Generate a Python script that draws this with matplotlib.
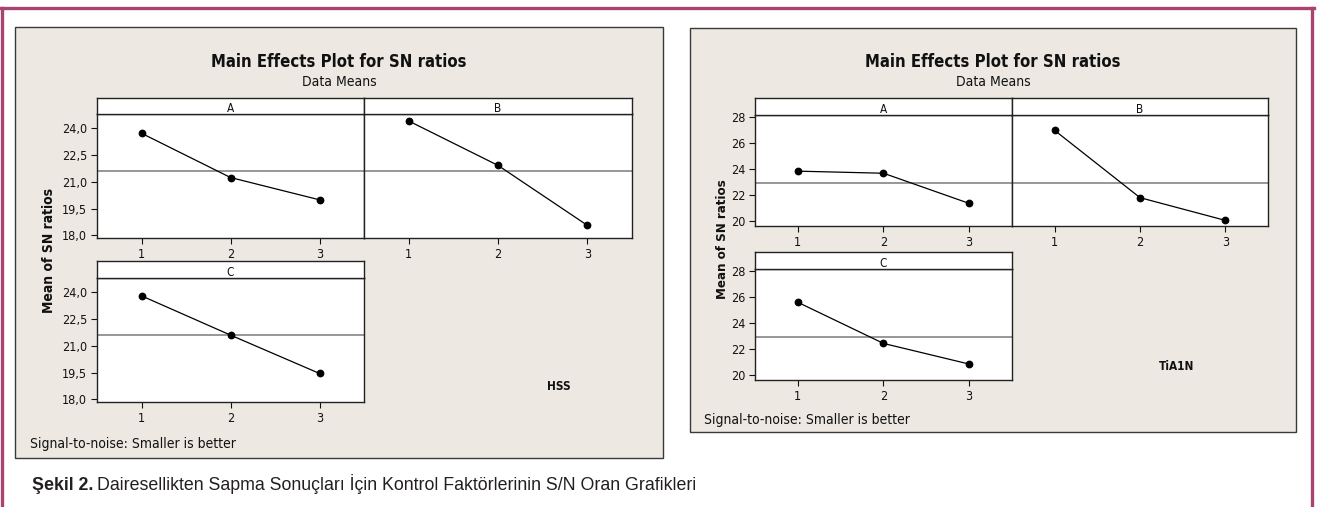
import numpy as np
import matplotlib
matplotlib.use("Agg")
import matplotlib.pyplot as plt
from matplotlib.patches import Rectangle
from matplotlib.lines import Line2D
from matplotlib.ticker import FuncFormatter

# ---- data: mean SN ratio at each factor level ----
levels = [1, 2, 3]
hss_A = [23.72, 21.24, 19.99]
hss_B = [24.41, 21.92, 18.56]
hss_C = [23.80, 21.60, 19.45]
hss_yticks = [18.0, 19.5, 21.0, 22.5, 24.0]

tialn_A = [23.85, 23.69, 21.38]
tialn_B = [26.97, 21.82, 20.08]
tialn_C = [25.60, 22.45, 20.87]
tialn_yticks = [20, 22, 24, 26, 28]

title = "Main Effects Plot for SN ratios"
subtitle = "Data Means"
ylabel = "Mean of SN ratios"
note = "Signal-to-noise: Smaller is better"
caption_bold = "Şekil 2."
caption_rest = "Dairesellikten Sapma Sonuçları İçin Kontrol Faktörlerinin S/N Oran Grafikleri"

W, H = 1317, 507
BEIGE = "#EDE9E2"
MAGENTA = "#A8446F"
INK = "#111111"

plt.rcParams["font.family"] = ["DejaVu Sans"]
plt.rcParams["font.stretch"] = "condensed"

fig = plt.figure(figsize=(W / 100, H / 100), dpi=100)
fig.patch.set_facecolor("white")


def fx(x):
    return x / W


def fy(y):
    return 1 - y / H


def box(x0, y0, x1, y1):
    # pixel box (top-left origin) -> figure fraction rect
    return [x0 / W, 1 - y1 / H, (x1 - x0) / W, (y1 - y0) / H]


# ---- page frame ----
fig.add_artist(Line2D([0, fx(1314)], [fy(8), fy(8)], color=MAGENTA, lw=2.4, zorder=-2))
fig.add_artist(Line2D([fx(1.5), fx(1.5)], [fy(8), 0], color=MAGENTA, lw=2.4, zorder=-2))
fig.add_artist(Line2D([fx(1312), fx(1312)], [fy(8), 0], color=MAGENTA, lw=2.4, zorder=-2))


def facet(x0, y0, x1, y1, strip_h, name, vals, ylim, yticks, fmt, grand, show_y=True):
    ax = fig.add_axes(box(x0, y0, x1, y1))
    ax.set_facecolor("white")
    ax.axhline(grand, color="#8f8f8f", lw=1.3, zorder=2)
    ax.plot(levels, vals, color="black", lw=0.9, marker="o", ms=4.6, zorder=3)
    ax.set_xlim(0.5, 3.5)
    ax.set_ylim(*ylim)
    ax.set_xticks(levels)
    ax.set_yticks(yticks)
    ax.yaxis.set_major_formatter(FuncFormatter(fmt))
    ax.tick_params(direction="out", length=4, width=0.8, labelsize=9, pad=3, colors=INK)
    if not show_y:
        ax.tick_params(axis="y", left=False, labelleft=False)
    for s in ax.spines.values():
        s.set_linewidth(1.0)
        s.set_color("#222222")
    sax = fig.add_axes(box(x0, y0 - strip_h, x1, y0))
    sax.set_facecolor("white")
    sax.set_xticks([])
    sax.set_yticks([])
    for s in sax.spines.values():
        s.set_linewidth(1.0)
        s.set_color("#222222")
    sax.text(0.5, 0.12, name, ha="center", va="baseline", fontsize=8.5, color=INK,
             transform=sax.transAxes)
    return ax


def panel(px0, py0, px1, py1):
    fig.add_artist(Rectangle((fx(px0), fy(py1)), (px1 - px0) / W, (py1 - py0) / H,
                             transform=fig.transFigure, fc=BEIGE, ec="#3a3a3a",
                             lw=1.0, zorder=-1))
    cx = (px0 + px1) / 2
    fig.text(fx(cx), fy(62), title, ha="center", va="center", fontsize=12,
             fontweight="bold", color=INK)
    fig.text(fx(cx), fy(82), subtitle, ha="center", va="center", fontsize=10, color=INK)


comma1 = lambda v, p: f"{v:.1f}".replace(".", ",")
whole = lambda v, p: f"{v:.0f}"

# ---- HSS ----
panel(15, 27, 663, 458)
hss_mean = np.mean(hss_A + hss_B + hss_C)
hss_lim = (17.85, 24.8)
facet(97, 114, 364, 238, 16, "A", hss_A, hss_lim, hss_yticks, comma1, hss_mean)
facet(364, 114, 632, 238, 16, "B", hss_B, hss_lim, hss_yticks, comma1, hss_mean, show_y=False)
facet(97, 278, 364, 402, 17, "C", hss_C, hss_lim, hss_yticks, comma1, hss_mean)
fig.text(fx(49), fy(250), ylabel, rotation=90, ha="center", va="center", fontsize=10,
         fontweight="bold", color=INK)
fig.text(fx(30), fy(444), note, ha="left", va="center", fontsize=10, color=INK)
fig.text(fx(559), fy(387), "HSS", ha="center", va="center", fontsize=8.5,
         fontweight="bold", color=INK)

# ---- TiAlN ----
panel(690, 28, 1296, 432)
tialn_mean = np.mean(tialn_A + tialn_B + tialn_C)
tialn_lim = (19.65, 28.15)
facet(755, 115, 1012, 226, 17, "A", tialn_A, tialn_lim, tialn_yticks, whole, tialn_mean)
facet(1012, 115, 1268, 226, 17, "B", tialn_B, tialn_lim, tialn_yticks, whole, tialn_mean, show_y=False)
facet(755, 269, 1012, 380, 17, "C", tialn_C, tialn_lim, tialn_yticks, whole, tialn_mean)
fig.text(fx(723), fy(239), ylabel, rotation=90, ha="center", va="center", fontsize=9.5,
         fontweight="bold", color=INK)
fig.text(fx(704), fy(420), note, ha="left", va="center", fontsize=10, color=INK)
fig.text(fx(1177), fy(367), "TiA1N", ha="center", va="center", fontsize=8.5,
         fontweight="bold", color=INK)

# ---- caption: bold label, then the regular text on the same baseline ----
cap = fig.text(fx(32), fy(490), caption_bold, ha="left", va="baseline", fontsize=12.8,
               fontweight="bold", family=["Liberation Sans"], stretch="normal", color="#231F20")
r = fig.canvas.get_renderer()
bb = cap.get_window_extent(r)
fig.text(fx(bb.x1 + 4), fy(490), caption_rest, ha="left", va="baseline", fontsize=12.8,
         family=["Liberation Sans"], stretch="normal", color="#231F20")

fig.savefig("out.png", dpi=100)
